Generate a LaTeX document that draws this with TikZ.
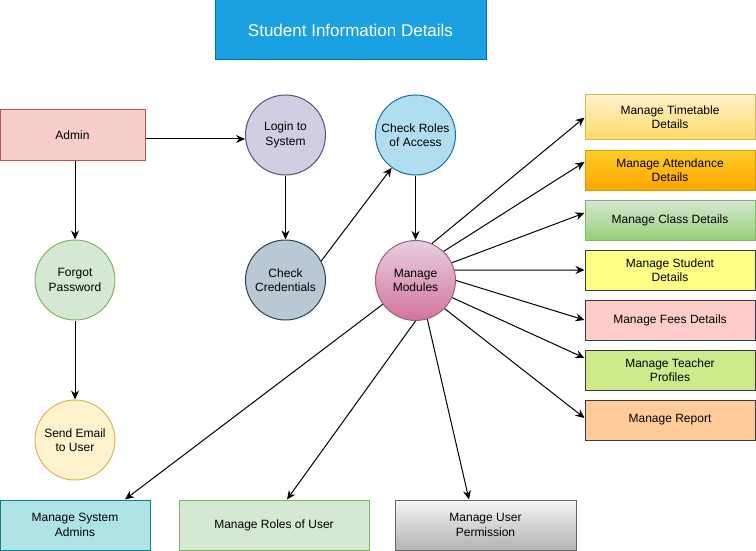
\documentclass[tikz,border=0pt]{standalone}
\usepackage{fontspec}
\setmainfont{Liberation Sans}
\usepackage{xcolor}
\usetikzlibrary{arrows.meta,positioning}

\definecolor{titlefill}{HTML}{1BA1E2}
\definecolor{titleline}{HTML}{006EAF}
\definecolor{adminfill}{HTML}{F8CECC}
\definecolor{adminline}{HTML}{B85450}
\definecolor{greenfill}{HTML}{D5E8D4}
\definecolor{greenline}{HTML}{82B366}
\definecolor{yellowfill}{HTML}{FFF2CC}
\definecolor{yellowline}{HTML}{D6B656}
\definecolor{loginfill}{HTML}{D0CEE2}
\definecolor{loginline}{HTML}{56517E}
\definecolor{credfill}{HTML}{BAC8D3}
\definecolor{credline}{HTML}{23445D}
\definecolor{rolesfill}{HTML}{B1DDF0}
\definecolor{rolesline}{HTML}{10739E}
\definecolor{mmtop}{HTML}{E6D0DE}
\definecolor{mmbot}{HTML}{D5739D}
\definecolor{mmline}{HTML}{996185}
\definecolor{ttbot}{HTML}{FFD966}
\definecolor{atttop}{HTML}{FFCD28}
\definecolor{attbot}{HTML}{FFA500}
\definecolor{attline}{HTML}{D79B00}
\definecolor{classbot}{HTML}{97D077}
\definecolor{darkline}{HTML}{36393D}
\definecolor{studentfill}{HTML}{FFFF88}
\definecolor{feesfill}{HTML}{FFCCCC}
\definecolor{teacherfill}{HTML}{CDEB8B}
\definecolor{reportfill}{HTML}{FFCC99}
\definecolor{sysfill}{HTML}{B0E3E6}
\definecolor{sysline}{HTML}{0E8088}
\definecolor{permtop}{HTML}{F5F5F5}
\definecolor{permbot}{HTML}{B3B3B3}
\definecolor{permline}{HTML}{666666}

\begin{document}
\begin{tikzpicture}[x=1pt, y=-1pt, line width=1pt, >={Stealth[length=9pt, width=8pt]},
  every node/.style={font=\fontsize{12}{14.4}\selectfont, align=center, inner sep=0pt},
  proc/.style={circle, draw, minimum size=80pt},
  card/.style={rectangle, draw, minimum width=170pt, minimum height=40pt},
  link/.style={->, black}]
\useasboundingbox (0,0) rectangle (756,551);

% Title
\node[draw=titleline, fill=titlefill, text=white, minimum width=271pt, minimum height=60pt,
  font=\fontsize{17}{20}\selectfont] (title) at (350.5,30) {Student Information Details};

% Admin and password recovery
\node[card, draw=adminline, fill=adminfill, minimum width=145pt, minimum height=50pt] (admin) at (72.5,135) {Admin};
\node[proc, draw=greenline, fill=greenfill] (forgot) at (75,280) {Forgot\\Password};
\node[proc, draw=yellowline, fill=yellowfill] (email) at (75,440) {Send Email\\to User};

% Login flow
\node[proc, draw=loginline, fill=loginfill] (login) at (285.5,135) {Login to\\System};
\node[proc, draw=credline, fill=credfill] (cred) at (285.5,280) {Check\\Credentials};
\node[proc, draw=rolesline, fill=rolesfill] (roles) at (415.5,135) {Check Roles\\of Access};
\node[proc, draw=mmline, top color=mmtop, bottom color=mmbot] (mm) at (415.5,280.5) {Manage\\Modules};

% Modules on the right
\node[card, draw=yellowline, top color=yellowfill, bottom color=ttbot, minimum height=45pt] (timetable) at (670,117.5) {Manage Timetable\\Details};
\node[card, draw=attline, top color=atttop, bottom color=attbot] (attendance) at (670,170) {Manage Attendance\\Details};
\node[card, draw=greenline, top color=greenfill, bottom color=classbot] (class) at (670,220) {Manage Class Details};
\node[card, draw=darkline, fill=studentfill] (student) at (670,270) {Manage Student\\Details};
\node[card, draw=darkline, fill=feesfill] (fees) at (670,320) {Manage Fees Details};
\node[card, draw=darkline, fill=teacherfill] (teacher) at (670,370) {Manage Teacher\\Profiles};
\node[card, draw=darkline, fill=reportfill] (report) at (670,420) {Manage Report};

% Modules at the bottom
\node[card, draw=sysline, fill=sysfill, minimum width=150pt, minimum height=50pt] (sysadm) at (75,525) {Manage System\\Admins};
\node[card, draw=greenline, fill=greenfill, minimum width=190pt, minimum height=50pt] (roleuser) at (274,525) {Manage Roles of User};
\node[card, draw=permline, top color=permtop, bottom color=permbot, minimum width=181pt, minimum height=50pt] (perm) at (485.5,525) {Manage User\\Permission};

% Connectors
\draw[link] ([yshift=-4pt]admin.east) -- ([yshift=-4pt]login.west);
\draw[link] (forgot |- admin.south) -- (forgot);
\draw[link] (forgot) -- (email);
\draw[link] (login) -- (cred);
\draw[link] (cred.28) -- (roles.-126);
\draw[link] (roles) -- (mm);

\draw[link] (mm.66) -- (timetable.west);
\draw[link] (mm.46) -- ([yshift=8pt]attendance.west);
\draw[link] (mm.26) -- ([yshift=7pt]class.west);
\draw[link] (mm.15) -- (student.west);
\draw[link] (mm.0) -- (fees.west);
\draw[link] (mm.-25) -- ([yshift=12pt]teacher.west);
\draw[link] (mm.-44) -- ([yshift=2pt]report.west);

\draw[link] (mm.-144) -- ([xshift=50pt]sysadm.north);
\draw[link] (mm.-90) -- ([xshift=13pt]roleuser.north);
\draw[link] (mm.-73) -- ([xshift=-16.5pt]perm.north);
\end{tikzpicture}
\end{document}
